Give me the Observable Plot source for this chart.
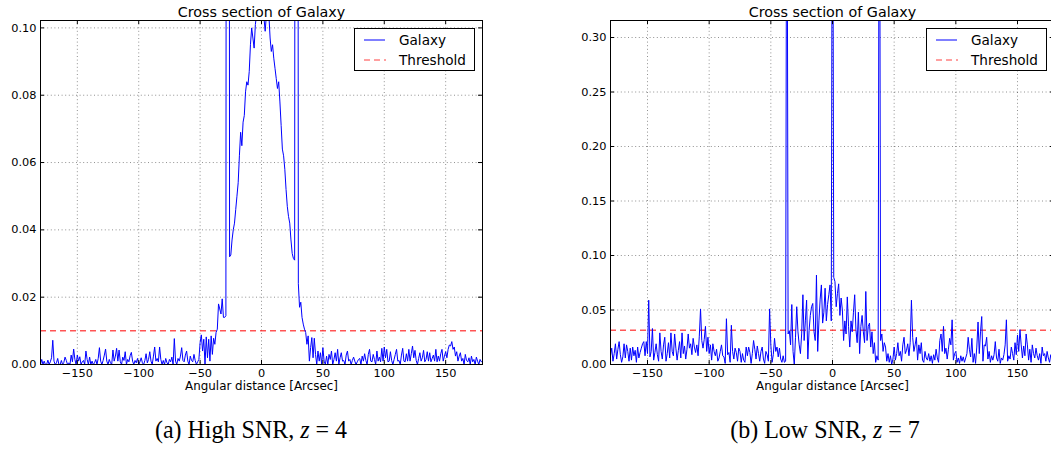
<!DOCTYPE html>
<html>
<head>
<meta charset="utf-8">
<script src="https://cdn.jsdelivr.net/npm/d3@7"></script>
<script src="https://cdn.jsdelivr.net/npm/@observablehq/plot@0.6"></script>
<style>
html, body { margin: 0; padding: 0; background: #fff; overflow: hidden; }
#root { position: relative; width: 1051px; height: 452px; overflow: hidden; font-family: "DejaVu Sans", sans-serif; }
.panel { position: absolute; top: 0; }
.legend { position: absolute; border: 1px solid #000; background: #fff; box-sizing: border-box; }
.legend svg { display: block; font-family: "DejaVu Sans", sans-serif; font-size: 13.6px; }
.caption { position: absolute; top: 416px; width: 400px; text-align: center; font-family: "Liberation Serif", "Times New Roman", serif; font-size: 24px; line-height: 28px; color: #000; white-space: nowrap; transform: scaleY(1.06); }
</style>
</head>
<body>
<div id="root"></div>
<script>
// ---------- data ----------
const angles = d3.range(-180, 181); // sample positions [arcsec], one per arcsec

// (a) High SNR, z = 4
const galaxyHigh = [
  0,.0015,0,.001,0,0,.0013,0,.0008,.002,
  .0072,.001,0,.0005,.0018,0,0,.0012,0,.0006,
  .0022,.0012,0,.0005,0,.0028,.0008,.0046,.0015,0,
  .0028,.001,.0023,0,.0008,.0012,0,.004,.0015,0,
  .0022,0,.001,0,.0005,.0015,0,.0018,.005,.001,
  0,.0012,.0028,.0046,.001,0,.0015,.0005,0,.0043,
  .001,.0025,.0048,.001,.0043,.0008,0,.0022,.0012,.0038,
  0,.0015,.0008,.0026,.0036,.001,0,.0012,.0005,.0018,
  0,.0008,.002,.0005,0,.0012,.0032,.0005,.0015,.0038,
  .001,0,.0025,.0052,.001,.0018,.0008,.0052,.0015,0,
  .0012,0,.0018,.0005,0,.0015,.0008,.0022,0,.0077,
  .001,0,.0018,.001,.0025,.005,.0012,.0008,.0028,.004,
  .001,0,.0025,.0012,.0008,.003,.0012,0,.0008,.0015,
  .0065,.0088,.004,.0075,0,.0082,.002,.0075,.001,.0085,
  .003,.0078,.006,.0095,.0105,.018,.0165,.015,.0195,.014,
  .014,.0145,.6,.6,.032,.0325,.037,.040,.042,.046,
  .050,.054,.062,.069,.065,.072,.074,.081,.084,.083,
  .087,.095,.100,.097,.094,.101,.104,.106,.110,.108,
  .112,.107,.103,.099,.104,.108,.104,.097,.093,.095,
  .091,.088,.085,.082,.084,.078,.071,.064,.062,.058,
  .052,.047,.044,.042,.037,.033,.0315,.031,.6,.6,
  .024,.017,.0185,.014,.012,.0105,.0095,.006,.0085,.001,
  .005,.008,.002,.0078,.003,0,.004,.001,.0035,0,
  .005,.001,0,.0025,0,.003,.0015,.004,0,.0015,
  .0035,.001,.0045,0,.002,.0035,.001,.0012,0,.0028,
  .004,.001,.0015,0,.0012,.0022,.001,0,.0008,.0015,
  .0018,0,.0025,.001,.0032,.0012,0,.003,.0045,.001,
  .0008,.003,.0015,0,.004,.001,.0022,.0008,.0048,.001,
  .0052,.002,.0045,.0008,.001,.0038,.0012,0,.0015,.003,
  .0045,.001,.0012,0,.0028,.0048,.001,.0008,.0032,.001,
  .0045,.001,.0032,.0055,.002,.0042,.0012,0,.0018,.0035,
  .001,.002,.0042,.0008,.0015,.0038,.001,.0035,.0008,.0018,
  .0028,.001,.0045,.0008,.0025,.001,.0032,.0045,.001,.0025,
  .0038,.002,.0045,.0058,.0055,.0068,.0045,.0052,.0025,.0038,
  .001,.0025,.0035,.001,.0018,0,.003,.0012,.0008,.002,
  0,.0025,.0008,.0015,0,.0022,.001,0,.0015,.0008,
  .001
];

// (b) Low SNR, z = 7
const galaxyLow = [
  .008,.015,.003,.010,.019,.005,.014,.021,.009,.002,
  .007,.019,.006,.018,.012,.003,.015,.004,.016,.008,
  .013,.002,.016,.006,.011,.015,.019,.021,.008,.021,
  .010,.059,.007,.012,.033,.004,.011,.019,.009,.003,
  .029,.012,.005,.018,.025,.003,.010,.020,.006,.029,
  .012,.008,.028,.015,.004,.013,.021,.006,.029,.010,
  .017,.005,.014,.028,.015,.019,.009,.024,.016,.011,
  .018,.008,.026,.051,.022,.015,.023,.035,.012,.025,
  .010,.018,.004,.019,.012,.008,.014,.003,.006,.012,
  .018,.008,.007,.001,.042,.009,.011,.002,.036,.012,
  .005,.015,.011,.003,.015,.012,.002,.010,.004,.002,
  .016,.008,.016,.011,.001,.010,.022,.014,.005,.017,
  .010,.003,.012,.016,.005,.001,.012,.009,.003,.051,
  .018,.002,.009,.024,.012,.016,.007,.015,.005,.002,
  .008,.002,.003,.6,.028,.031,.018,.055,.012,0,
  .025,.053,.030,.018,.010,.028,.064,.022,.040,.059,
  .005,.031,.045,.053,.056,.030,.022,.082,.012,.040,
  .060,.073,.038,.048,.070,.040,.055,.064,.073,.040,
  .6,.080,.076,.053,.065,.074,.045,.061,.050,.022,
  .040,.028,.062,.035,.016,.040,.030,.048,.064,.032,
  .020,.048,.010,.035,.045,.030,.020,.067,.022,.035,
  .038,.016,.030,.010,.020,.002,.008,.004,.6,.022,
  .028,.012,.020,.016,.003,.010,.002,.008,0,.005,
  .016,.004,.010,.020,.008,.012,.003,.018,.025,.010,
  .013,.019,.008,.020,.059,.025,.012,.018,.025,.004,
  .018,.010,.020,.004,.002,.012,.006,.004,.010,.003,
  .008,.001,.009,.004,.014,.006,.002,.022,.028,.012,
  .035,.010,.015,.005,.014,.024,.018,.041,.004,.010,
  .012,.002,.006,.001,.008,.003,.007,.002,.006,.010,
  .025,.014,.007,.024,.002,.010,.001,.016,.039,.010,
  .030,.044,.003,.018,.017,.025,.005,.012,.002,.008,
  .004,.009,.021,.006,.003,.014,.001,.006,.004,.009,
  .018,.041,.003,.008,.005,.016,.010,.004,.020,.009,
  .027,.012,.032,.018,.006,.017,.008,.028,.018,.004,
  .014,.002,.018,.010,.006,.015,.008,.004,.010,.001,
  .016,.008,.010,.003,.012,.006,.002,.009,.004,.007,
  .005
];

const thresholdHigh = 0.01;
const thresholdLow = 0.0315;
const xDomain = [-180, 180];
const yMaxHigh = 0.1022;
const yMaxLow = 0.3156;
const xTicks = [-150, -100, -50, 0, 50, 100, 150];
const yTicksHigh = [0, 0.02, 0.04, 0.06, 0.08, 0.10];
const yTicksLow = [0, 0.05, 0.10, 0.15, 0.20, 0.25, 0.30];
const titleText = "Cross section of Galaxy";
const xLabel = "Angular distance [Arcsec]";
const legendLabels = ["Galaxy", "Threshold"];
const captions = [["(a) High SNR, ", "z", " = 4"], ["(b) Low SNR, ", "z", " = 7"]];

// ---------- drawing ----------
const BLUE = "#0000ff", RED = "#ff0000";
const fmtX = d => (d < 0 ? "\u2212" + Math.abs(d) : String(d));
const fmtY = d3.format(".2f");
const root = document.getElementById("root");

function panel({values, threshold, yMax, yTicks, left, width, mLeft, mRight}) {
  const H = 400, mTop = 20, mBottom = 36;
  const innerH = H - mTop - mBottom;
  const innerW = width - mLeft - mRight;
  const data = angles.map((a, i) => ({a, v: values[i]}));
  const grid = {stroke: "#000", strokeOpacity: 0.55, strokeWidth: 0.8, strokeDasharray: "1,2.6"};
  const chart = Plot.plot({
    width, height: H,
    marginLeft: mLeft, marginRight: mRight, marginTop: mTop, marginBottom: mBottom,
    style: {fontFamily: "DejaVu Sans, sans-serif", fontSize: "11.3px", color: "#000", background: "transparent", overflow: "visible"},
    x: {domain: xDomain},
    y: {domain: [0, yMax]},
    marks: [
      Plot.gridX(xTicks, grid),
      Plot.gridY(yTicks, grid),
      Plot.ruleY([threshold], {stroke: RED, strokeWidth: 1, strokeDasharray: "6,4"}),
      Plot.line(data, {x: "a", y: "v", stroke: BLUE, strokeWidth: 1, clip: true}),
      Plot.tickX(xTicks, {x: d => d, stroke: "#000", insetTop: innerH - 4}),
      Plot.tickX(xTicks, {x: d => d, stroke: "#000", insetBottom: innerH - 4}),
      Plot.tickY(yTicks, {y: d => d, stroke: "#000", insetRight: innerW - 4}),
      Plot.tickY(yTicks, {y: d => d, stroke: "#000", insetLeft: innerW - 4}),
      Plot.frame({stroke: "#000", strokeWidth: 1}),
      Plot.axisX(xTicks, {tickSize: 0, tickPadding: 4, tickFormat: fmtX, label: null}),
      Plot.axisY(yTicks, {tickSize: 0, tickPadding: 4, tickFormat: fmtY, label: null}),
      Plot.text([xLabel], {text: d => d, frameAnchor: "bottom", dy: 25, lineAnchor: "bottom", fontSize: 11.9, fill: "#000"}),
      Plot.text([titleText], {text: d => d, frameAnchor: "top", dy: -4, lineAnchor: "bottom", fontSize: 14.3, fill: "#000"})
    ]
  });
  const div = document.createElement("div");
  div.className = "panel";
  div.style.left = left + "px";
  div.style.width = width + "px";
  div.appendChild(chart);
  root.appendChild(div);

  // legend (upper right of the axes)
  const lw = 121, lh = 43;
  const lg = document.createElement("div");
  lg.className = "legend";
  lg.style.left = (left + width - mRight - 7 - lw) + "px";
  lg.style.top = (mTop + 8) + "px";
  lg.style.width = lw + "px";
  lg.style.height = lh + "px";
  lg.innerHTML = `<svg width="${lw - 2}" height="${lh - 2}">
    <line x1="9" x2="30" y1="11" y2="11" stroke="${BLUE}" stroke-width="1"/>
    <text x="44" y="11" dy="0.35em" fill="#000">${legendLabels[0]}</text>
    <line x1="9" x2="31" y1="31" y2="31" stroke="${RED}" stroke-opacity="0.75" stroke-width="1" stroke-dasharray="6,4"/>
    <text x="44" y="31" dy="0.35em" fill="#000">${legendLabels[1]}</text>
  </svg>`;
  root.appendChild(lg);
}

panel({values: galaxyHigh, threshold: thresholdHigh, yMax: yMaxHigh, yTicks: yTicksHigh,
       left: 0, width: 525, mLeft: 40, mRight: 43});
panel({values: galaxyLow, threshold: thresholdLow, yMax: yMaxLow, yTicks: yTicksLow,
       left: 560, width: 500, mLeft: 50, mRight: 6});

// captions
[[251, captions[0]], [825, captions[1]]].forEach(([cx, parts]) => {
  const c = document.createElement("div");
  c.className = "caption";
  c.style.left = (cx - 200) + "px";
  c.innerHTML = `${parts[0]}<i>${parts[1]}</i>${parts[2]}`;
  root.appendChild(c);
});
</script>
</body>
</html>
